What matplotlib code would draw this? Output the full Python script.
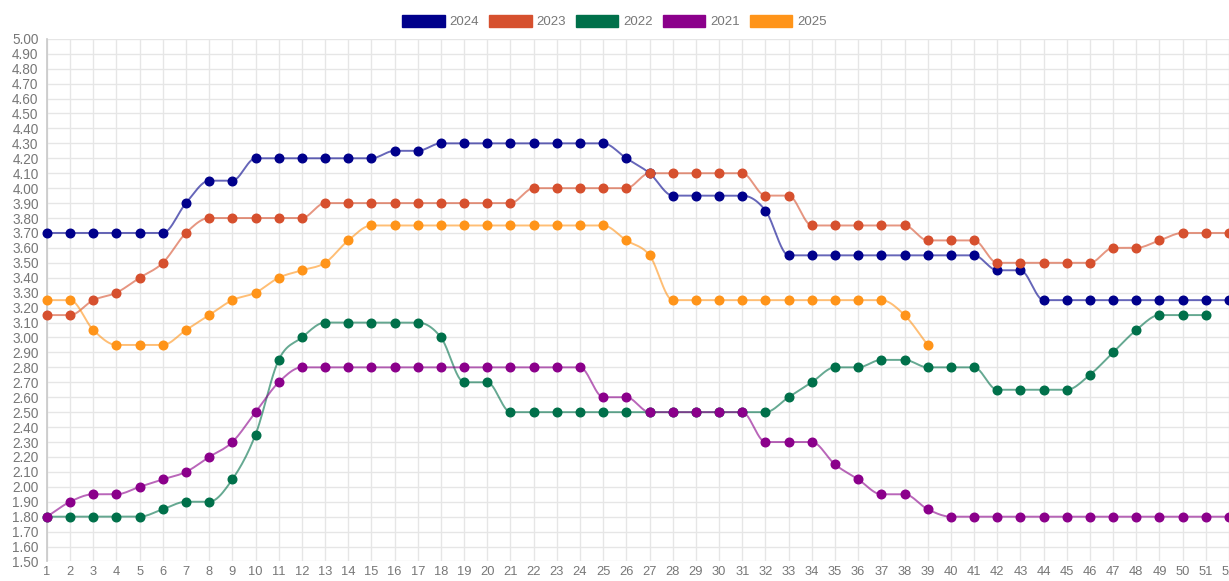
import numpy as np
import matplotlib
matplotlib.use("Agg")
import matplotlib.pyplot as plt
from matplotlib.patches import Patch

weeks = list(range(1, 53))

s2024 = [3.70, 3.70, 3.70, 3.70, 3.70, 3.70, 3.90, 4.05, 4.05, 4.20,
         4.20, 4.20, 4.20, 4.20, 4.20, 4.25, 4.25, 4.30, 4.30, 4.30,
         4.30, 4.30, 4.30, 4.30, 4.30, 4.20, 4.10, 3.95, 3.95, 3.95,
         3.95, 3.85, 3.55, 3.55, 3.55, 3.55, 3.55, 3.55, 3.55, 3.55,
         3.55, 3.45, 3.45, 3.25, 3.25, 3.25, 3.25, 3.25, 3.25, 3.25,
         3.25, 3.25]
s2023 = [3.15, 3.15, 3.25, 3.30, 3.40, 3.50, 3.70, 3.80, 3.80, 3.80,
         3.80, 3.80, 3.90, 3.90, 3.90, 3.90, 3.90, 3.90, 3.90, 3.90,
         3.90, 4.00, 4.00, 4.00, 4.00, 4.00, 4.10, 4.10, 4.10, 4.10,
         4.10, 3.95, 3.95, 3.75, 3.75, 3.75, 3.75, 3.75, 3.65, 3.65,
         3.65, 3.50, 3.50, 3.50, 3.50, 3.50, 3.60, 3.60, 3.65, 3.70,
         3.70, 3.70]
s2022 = [1.80, 1.80, 1.80, 1.80, 1.80, 1.85, 1.90, 1.90, 2.05, 2.35,
         2.85, 3.00, 3.10, 3.10, 3.10, 3.10, 3.10, 3.00, 2.70, 2.70,
         2.50, 2.50, 2.50, 2.50, 2.50, 2.50, 2.50, 2.50, 2.50, 2.50,
         2.50, 2.50, 2.60, 2.70, 2.80, 2.80, 2.85, 2.85, 2.80, 2.80,
         2.80, 2.65, 2.65, 2.65, 2.65, 2.75, 2.90, 3.05, 3.15, 3.15,
         3.15]
s2021 = [1.80, 1.90, 1.95, 1.95, 2.00, 2.05, 2.10, 2.20, 2.30, 2.50,
         2.70, 2.80, 2.80, 2.80, 2.80, 2.80, 2.80, 2.80, 2.80, 2.80,
         2.80, 2.80, 2.80, 2.80, 2.60, 2.60, 2.50, 2.50, 2.50, 2.50,
         2.50, 2.30, 2.30, 2.30, 2.15, 2.05, 1.95, 1.95, 1.85, 1.80,
         1.80, 1.80, 1.80, 1.80, 1.80, 1.80, 1.80, 1.80, 1.80, 1.80,
         1.80, 1.80]
s2025 = [3.25, 3.25, 3.05, 2.95, 2.95, 2.95, 3.05, 3.15, 3.25, 3.30,
         3.40, 3.45, 3.50, 3.65, 3.75, 3.75, 3.75, 3.75, 3.75, 3.75,
         3.75, 3.75, 3.75, 3.75, 3.75, 3.65, 3.55, 3.25, 3.25, 3.25,
         3.25, 3.25, 3.25, 3.25, 3.25, 3.25, 3.25, 3.15, 2.95]

series_labels = ["2024", "2023", "2022", "2021", "2025"]
series_values = [s2024, s2023, s2022, s2021, s2025]
colors = ["#00008B", "#D6502E", "#00704A", "#8B008B", "#FF9419"]

y_ticks = [round(1.5 + 0.1 * i, 2) for i in range(36)]


def monotone(x, y, n=12):
    x = np.asarray(x, float)
    y = np.asarray(y, float)
    h = np.diff(x)
    d = np.diff(y) / h
    m = np.zeros_like(y)
    m[0], m[-1] = d[0], d[-1]
    for i in range(1, len(y) - 1):
        if d[i - 1] * d[i] <= 0:
            m[i] = 0
        else:
            m[i] = (d[i - 1] + d[i]) / 2
    for i in range(len(d)):
        if d[i] == 0:
            m[i] = m[i + 1] = 0
        else:
            a, b = m[i] / d[i], m[i + 1] / d[i]
            s = a * a + b * b
            if s > 9:
                t = 3 / np.sqrt(s)
                m[i], m[i + 1] = t * a * d[i], t * b * d[i]
    xs, ys = [], []
    for i in range(len(d)):
        t = np.linspace(0, 1, n, endpoint=False)
        h00 = 2 * t**3 - 3 * t**2 + 1
        h10 = t**3 - 2 * t**2 + t
        h01 = -2 * t**3 + 3 * t**2
        h11 = t**3 - t**2
        xs.append(x[i] + t * h[i])
        ys.append(h00 * y[i] + h10 * h[i] * m[i] + h01 * y[i + 1] + h11 * h[i] * m[i + 1])
    xs.append([x[-1]])
    ys.append([y[-1]])
    return np.concatenate(xs), np.concatenate(ys)


plt.rcParams['font.family'] = ['Liberation Sans', 'DejaVu Sans']
fig = plt.figure(figsize=(12.29, 5.81), dpi=100)
ax = fig.add_axes([0.0382, 0.0336, 0.9618, 0.8996])

for lab, vals, c in zip(series_labels, series_values, colors):
    xw = weeks[:len(vals)]
    sx, sy = monotone(xw, vals)
    ax.plot(sx, sy, color=c, lw=1.4, alpha=0.6, clip_on=False, zorder=3)
    ax.plot(xw, vals, ls="none", marker="o", ms=6.2, color=c, clip_on=False, zorder=4)

ax.set_xlim(1, 52)
ax.set_ylim(1.5, 5.0)
ax.set_xticks(weeks)
ax.set_xticklabels([str(w) for w in weeks])
ax.set_yticks(y_ticks)
ax.set_yticklabels([f"{v:.2f}" for v in y_ticks])
ax.tick_params(length=0, labelsize=9.8, labelcolor="#777777")
ax.tick_params(axis="y", pad=6)
ax.tick_params(axis="x", labelsize=9.3, pad=3.5)
ax.grid(True, color="#e6e6e6", lw=1)
ax.set_axisbelow(True)
for s in ["top", "right", "bottom"]:
    ax.spines[s].set_visible(False)
ax.spines["left"].set_color("#c8c8c8")
ax.spines["left"].set_linewidth(1.2)

handles = [Patch(facecolor=c, edgecolor=c, label=l) for l, c in zip(series_labels, colors)]
leg = fig.legend(handles=handles, loc="center", bbox_to_anchor=(0.5, 1 - 21.5 / 581),
                 ncol=5, frameon=False, fontsize=9.5, handlelength=3.2, handleheight=1.0,
                 handletextpad=0.35, columnspacing=0.8)
for t in leg.get_texts():
    t.set_color("#777777")

fig.savefig("out.png", dpi=100)
